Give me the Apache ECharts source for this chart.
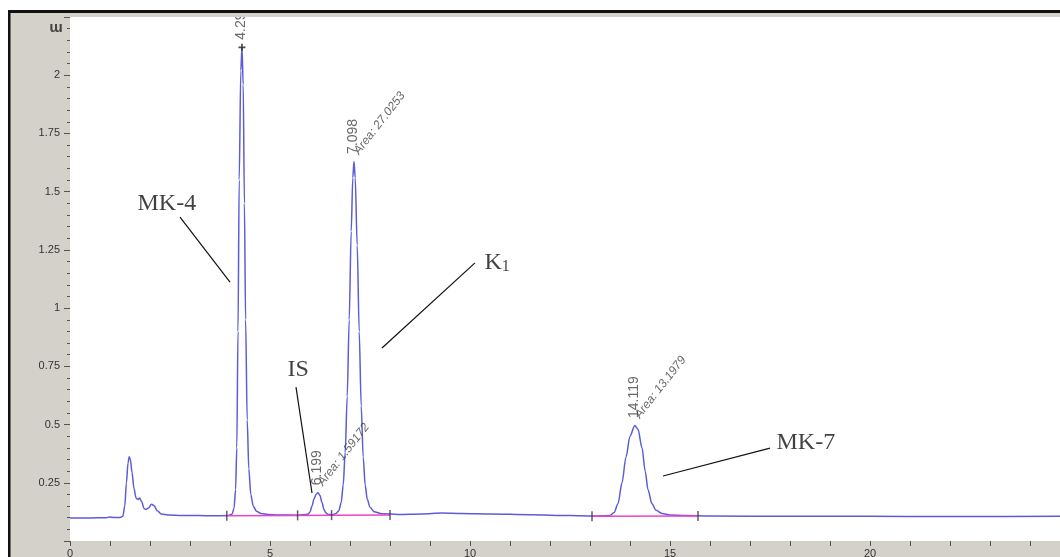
<!DOCTYPE html>
<html><head><meta charset="utf-8">
<script src="https://cdn.jsdelivr.net/npm/echarts@6/dist/echarts.min.js"></script>
<style>html,body{margin:0;padding:0;background:#fff}#c{width:1060px;height:557px}</style>
</head><body><div id="c"></div>
<script>
// Chromatogram trace (retention time in min, signal)
const traceT = [0.00,0.50,0.90,1.00,1.10,1.25,1.32,1.37,1.41,1.45,1.48,1.51,1.55,1.60,1.65,1.70,1.74,1.79,1.85,1.90,1.96,2.04,2.10,2.18,2.28,2.45,2.80,3.20,3.60,3.95,4.05,4.10,4.14,4.17,4.20,4.23,4.27,4.30,4.33,4.36,4.39,4.43,4.47,4.52,4.58,4.66,4.78,4.95,5.20,5.70,5.95,6.00,6.05,6.10,6.15,6.20,6.25,6.30,6.35,6.40,6.45,6.55,6.65,6.72,6.78,6.83,6.88,6.93,6.98,7.03,7.07,7.10,7.13,7.18,7.23,7.28,7.33,7.38,7.43,7.50,7.60,7.80,8.20,8.80,9.30,9.80,10.50,11.50,12.50,13.05,13.50,13.60,13.70,13.80,13.90,14.00,14.12,14.20,14.30,14.38,14.45,14.55,14.65,14.80,15.00,15.40,16.00,18.00,20.00,22.00,25.00];
const traceV = [0.099,0.099,0.100,0.103,0.101,0.101,0.106,0.150,0.250,0.335,0.362,0.350,0.295,0.225,0.185,0.178,0.185,0.170,0.140,0.135,0.142,0.158,0.152,0.130,0.116,0.112,0.110,0.109,0.108,0.109,0.115,0.140,0.220,0.400,0.900,1.550,2.020,2.120,1.960,1.450,0.950,0.520,0.310,0.200,0.150,0.128,0.118,0.114,0.112,0.111,0.115,0.125,0.150,0.180,0.200,0.207,0.195,0.165,0.135,0.120,0.114,0.113,0.118,0.130,0.165,0.240,0.380,0.620,0.950,1.330,1.560,1.630,1.560,1.270,0.900,0.580,0.360,0.240,0.180,0.145,0.126,0.117,0.114,0.116,0.120,0.118,0.116,0.113,0.109,0.107,0.110,0.122,0.160,0.250,0.360,0.450,0.496,0.480,0.400,0.300,0.220,0.160,0.132,0.118,0.112,0.109,0.107,0.106,0.106,0.105,0.106];
// integration baselines
const baseAT = [3.92, 5.69, 6.54, 8.00];
const baseAV = [0.108, 0.110, 0.111, 0.112];
const baseBT = [13.05, 15.70];
const baseBV = [0.106, 0.107];
const markT = [3.92, 5.69, 6.54, 8.00, 13.05, 15.70];
const markV = [0.108, 0.110, 0.111, 0.112, 0.106, 0.107];
// peaks
const peakT = [4.299, 6.199, 7.098, 14.119];
const peakV = [2.12, 0.207, 1.63, 0.496];
const rtLabels = ['4.299', '6.199', '7.098', '14.119'];
const areaLabels = ['', 'Area: 1.59172', 'Area: 27.0253', 'Area: 13.1979'];
// annotations (data coordinates)
const annoText = ['MK-4', 'K1', 'IS', 'MK-7'];
const annoT = [1.70, 10.375, 5.45, 17.675];
const annoV = [1.445, 1.194, 0.734, 0.421];
const leadFromT = [2.75, 10.125, 5.65, 17.50];
const leadFromV = [1.391, 1.194, 0.661, 0.399];
const leadToT = [4.00, 7.80, 6.05, 14.825];
const leadToV = [1.112, 0.829, 0.206, 0.279];
const yUnit = 'm';

const gray = '#d4d1ca';
const chart = echarts.init(document.getElementById('c'));
chart.setOption({
  animation: false,
  backgroundColor: gray,
  grid: { left: 70, top: 17, right: -10, bottom: 16, show: true, backgroundColor: '#ffffff', borderWidth: 0,
          containLabel: false, outerBoundsMode: 'none' },
  xAxis: {
    type: 'value', min: 0, max: 25, interval: 5,
    axisLine: { show: false },
    splitLine: { show: false },
    axisTick: { show: true, length: 5, lineStyle: { color: '#555' } },
    minorTick: { show: true, splitNumber: 5, length: 5, lineStyle: { color: '#555' } },
    axisLabel: { margin: 7, fontFamily: 'Liberation Sans', fontSize: 11, color: '#333', showMaxLabel: false }
  },
  yAxis: {
    type: 'value', min: 0, max: 2.25, interval: 0.25,
    axisLine: { show: false },
    splitLine: { show: false },
    axisTick: { show: true, length: 6, lineStyle: { color: '#555' } },
    minorTick: { show: true, splitNumber: 5, length: 3, lineStyle: { color: '#555' } },
    axisLabel: { margin: 10, fontFamily: 'Liberation Sans', fontSize: 11, color: '#333', showMinLabel: false, showMaxLabel: false }
  },
  series: [
    { type: 'line', data: traceT.map((t, i) => [t, traceV[i]]), showSymbol: false, smooth: 0.3, smoothMonotone: 'x',
      lineStyle: { color: '#5c5cd8', width: 1.5 }, z: 2, silent: true },
    { type: 'line', data: baseAT.map((t, i) => [t, baseAV[i]]), showSymbol: false,
      lineStyle: { color: '#ee44c6', width: 1.5 }, z: 3, silent: true },
    { type: 'line', data: baseBT.map((t, i) => [t, baseBV[i]]), showSymbol: false,
      lineStyle: { color: '#ee44c6', width: 1.5 }, z: 3, silent: true },
    { type: 'scatter', data: markT.map((t, i) => [t, markV[i]]), symbol: 'rect', symbolSize: [1.5, 10],
      itemStyle: { color: '#4a2a4a' }, z: 4, silent: true },
    { type: 'scatter', data: [[peakT[0], peakV[0]]], symbol: 'path://M3,0H5V3H8V5H5V8H3V5H0V3H3Z', symbolSize: 7,
      itemStyle: { color: '#222' }, z: 4, silent: true },
    { type: 'scatter', data: peakT.map((t, i) => [t, peakV[i]]), symbolSize: 1, itemStyle: { color: 'transparent' }, z: 5, silent: true,
      label: { show: true, formatter: p => rtLabels[p.dataIndex], position: [0, -7], rotate: 90, align: 'left', verticalAlign: 'middle',
        fontFamily: 'Liberation Sans', fontSize: 14, color: '#444' } },
    { type: 'scatter', data: peakT.map((t, i) => [t, peakV[i]]), symbolSize: 1, itemStyle: { color: 'transparent' }, z: 5, silent: true,
      label: { show: true, formatter: p => areaLabels[p.dataIndex], position: [3, -8], rotate: 52, align: 'left', verticalAlign: 'middle',
        fontFamily: 'Liberation Sans', fontSize: 12, fontStyle: 'italic', color: '#444' } },
    { type: 'lines', coordinateSystem: 'cartesian2d', silent: true, z: 5,
      data: leadFromT.map((t, i) => ({ coords: [[t, leadFromV[i]], [leadToT[i], leadToV[i]]] })),
      lineStyle: { color: '#111', width: 1.2, opacity: 1 } },
    { type: 'scatter', data: annoT.map((t, i) => [t, annoV[i]]), symbolSize: 1, itemStyle: { color: 'transparent' }, z: 6, silent: true,
      label: { show: true, position: [0, 0], align: 'left', verticalAlign: 'middle',
        formatter: p => { const s = annoText[p.dataIndex]; const m = /^K(\d)$/.exec(s); return m ? '{k|K}{s|' + m[1] + '}' : '{k|' + s + '}'; },
        rich: { k: { fontFamily: 'Liberation Serif', fontSize: 24, color: '#111' },
                s: { fontFamily: 'Liberation Serif', fontSize: 16, color: '#111', verticalAlign: 'bottom', padding: [8, 0, 0, 0] } } } }
  ],
  graphic: [
    { type: 'rect', z: 100, silent: true, shape: { x: 0, y: 0, width: 1060, height: 10 }, style: { fill: '#ffffff' } },
    { type: 'rect', z: 100, silent: true, shape: { x: 0, y: 0, width: 8, height: 557 }, style: { fill: '#ffffff' } },
    { type: 'rect', z: 100, silent: true, shape: { x: 8, y: 10, width: 1052, height: 3 }, style: { fill: '#111111' } },
    { type: 'rect', z: 100, silent: true, shape: { x: 10, y: 13, width: 1050, height: 4 }, style: { fill: gray } },
    { type: 'rect', z: 100, silent: true, shape: { x: 8, y: 10, width: 2.5, height: 547 }, style: { fill: '#111111' } },
    { type: 'text', z: 100, silent: true, x: 56, y: 28, rotation: Math.PI,
      style: { text: yUnit, fontFamily: 'Liberation Sans', fontSize: 15, fontWeight: 'bold', fill: '#444', align: 'center', verticalAlign: 'middle' } }
  ]
});
</script></body></html>
